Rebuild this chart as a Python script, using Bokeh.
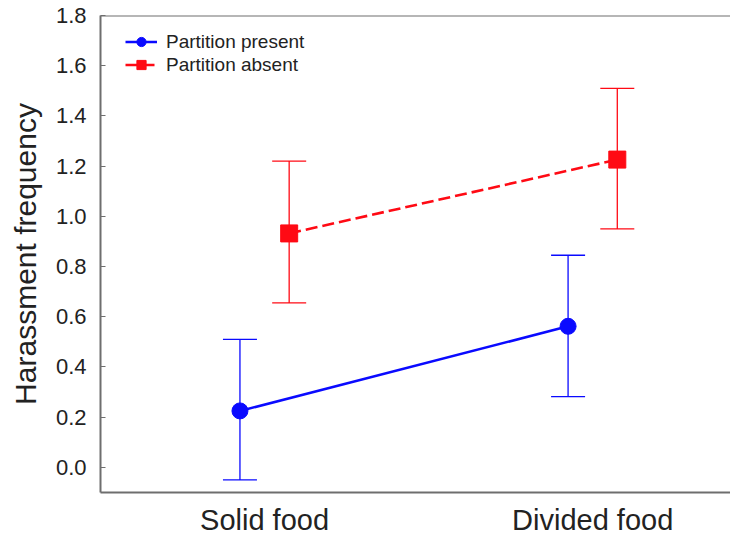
from bokeh.plotting import figure
from bokeh.models import (ColumnDataSource, Whisker, TeeHead, FixedTicker, Span,
                          PrintfTickFormatter, Range1d, Legend)
from bokeh.embed import file_html
from bokeh.resources import INLINE

# ---- data ----
categories = ["Solid food", "Divided food"]
cat_pos = [1, 2]
present_mean = [0.225, 0.562]
present_upper = [0.510, 0.845]
present_lower = [-0.050, 0.282]
absent_mean = [0.932, 1.226]
absent_upper = [1.220, 1.510]
absent_lower = [0.655, 0.950]
y_ticks = [0.0, 0.2, 0.4, 0.6, 0.8, 1.0, 1.2, 1.4, 1.6, 1.8]

BLUE = "#0a0aff"
RED = "#ff0a14"
AXIS = "#6e6e6e"
TXT = "#222222"
FONT = "Liberation Sans"
dodge = 0.075

p = figure(width=730, height=538, output_backend="svg", toolbar_location=None,
           x_range=Range1d(0.5, 2.42), y_range=Range1d(-0.1, 1.8),
           min_border_left=100, min_border_top=15, min_border_bottom=32,
           min_border_right=0)
p.outline_line_color = None
p.grid.visible = False
p.background_fill_color = "white"
p.border_fill_color = "white"

src_p = ColumnDataSource(dict(x=[c - dodge for c in cat_pos], y=present_mean,
                              up=present_upper, lo=present_lower))
src_a = ColumnDataSource(dict(x=[c + dodge for c in cat_pos], y=absent_mean,
                              up=absent_upper, lo=absent_lower))

wp = Whisker(source=src_p, base="x", upper="up", lower="lo", dimension="height",
             line_color=BLUE, line_width=1.3,
             upper_head=TeeHead(size=34, line_color=BLUE, line_width=1.3),
             lower_head=TeeHead(size=34, line_color=BLUE, line_width=1.3))
wa = Whisker(source=src_a, base="x", upper="up", lower="lo", dimension="height",
             line_color=RED, line_width=1.3,
             upper_head=TeeHead(size=34, line_color=RED, line_width=1.3),
             lower_head=TeeHead(size=34, line_color=RED, line_width=1.3))
p.add_layout(wp)
p.add_layout(wa)

lp = p.line("x", "y", source=src_p, line_color=BLUE, line_width=2.6)
sp = p.scatter("x", "y", source=src_p, marker="circle", size=16,
               fill_color=BLUE, line_color=BLUE)
la = p.line("x", "y", source=src_a, line_color=RED, line_width=2.6,
            line_dash="12 5")
sa = p.scatter("x", "y", source=src_a, marker="square", size=17,
               fill_color=RED, line_color=RED)

legend = Legend(items=[("Partition present", [lp, sp]),
                       ("Partition absent", [la, sa])],
                location=(25, 416), padding=0, spacing=0,
                label_height=20, glyph_height=23, glyph_width=32,
                label_standoff=9, label_text_font=FONT,
                label_text_font_size="19px", label_text_color=TXT,
                background_fill_alpha=0, border_line_color=None)
p.add_layout(legend)

# top frame line
p.add_layout(Span(location=1.8, dimension="width", line_color=AXIS,
                  line_width=2))

# axes
xa = p.xaxis[0]
xa.ticker = FixedTicker(ticks=cat_pos)
xa.major_label_overrides = {c: lab for c, lab in zip(cat_pos, categories)}
xa.major_tick_line_color = None
xa.minor_tick_line_color = None
xa.axis_line_color = AXIS
xa.axis_line_width = 2
xa.major_label_text_font = FONT
xa.major_label_text_font_size = "29px"
xa.major_label_text_color = TXT
xa.major_label_standoff = 5

ya = p.yaxis[0]
ya.ticker = FixedTicker(ticks=y_ticks)
ya.formatter = PrintfTickFormatter(format="%.1f")
ya.major_tick_in = 5
ya.major_tick_out = 0
ya.major_tick_line_color = AXIS
ya.minor_tick_line_color = None
ya.axis_line_color = AXIS
ya.axis_line_width = 2
ya.major_label_text_font = FONT
ya.major_label_text_font_size = "22px"
ya.major_label_text_color = TXT
ya.major_label_standoff = 14
ya.axis_label = "Harassment frequency"
ya.axis_label_text_font = FONT
ya.axis_label_text_font_size = "30px"
ya.axis_label_text_font_style = "normal"
ya.axis_label_text_color = TXT
ya.axis_label_standoff = 11

open("out.html", "w").write(file_html(p, INLINE))
